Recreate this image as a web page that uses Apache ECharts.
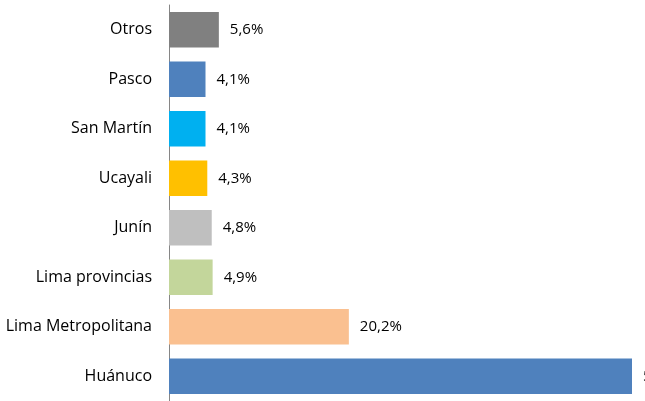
<!DOCTYPE html>
<html lang="es">
<head>
    <meta charset="UTF-8">
    <title>Chart</title>
    <script src="https://cdn.jsdelivr.net/npm/echarts@6.0.0/dist/echarts.min.js"></script>
</head>
<body style="margin:0;">
<div id="bar" style="width:645px;height:401px;"></div>
<script type="text/javascript">
    var regiones = ['Huánuco', 'Lima Metropolitana', 'Lima provincias', 'Junín', 'Ucayali', 'San Martín', 'Pasco', 'Otros'];
    var valores = [52.0, 20.2, 4.9, 4.8, 4.3, 4.1, 4.1, 5.6];
    var colores = ['#4f81bd', '#fac090', '#c3d69b', '#bfbfbf', '#ffc000', '#00b0f0', '#4f81bd', '#808080'];

    var chart = echarts.init(document.getElementById('bar'));
    var option = {
        animation: false,
        textStyle: { fontFamily: 'Open Sans' },
        grid: { left: 169, right: 13, top: 5, bottom: -5 },
        xAxis: {
            type: 'value',
            min: 0,
            max: 52,
            show: false
        },
        yAxis: {
            type: 'category',
            data: regiones,
            axisLine: { lineStyle: { color: '#868686', width: 1 } },
            axisTick: { show: false },
            axisLabel: { color: '#000', fontSize: 16, margin: 17 }
        },
        series: [{
            type: 'bar',
            barCategoryGap: '28%',
            data: valores.map(function (v, i) {
                return { value: v, itemStyle: { color: colores[i] } };
            }),
            label: {
                show: true,
                position: 'right',
                distance: 11,
                color: '#000',
                fontSize: 15,
                formatter: function (p) { return p.value.toFixed(1).replace('.', ',') + '%'; }
            }
        }]
    };
    chart.setOption(option);
</script>
</body>
</html>
